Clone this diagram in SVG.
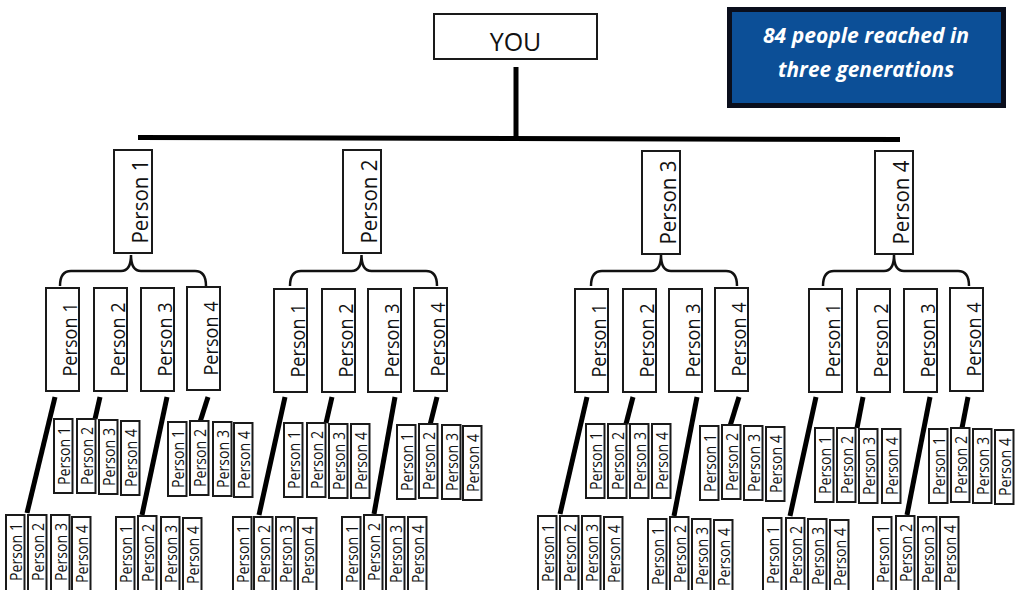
<svg xmlns="http://www.w3.org/2000/svg" width="1019" height="590" viewBox="0 0 1019 590">
<style>
.b{fill:#fff;stroke:#1a1a1a;stroke-width:2}
.t{font-family:'Open Sans','Liberation Sans',sans-serif;fill:#111;text-anchor:middle}
.t1{font-size:21px}.t2{font-size:19.5px}.t3{font-size:16px}
.c{stroke:#000;stroke-width:5;fill:none;stroke-linecap:butt}
.br{stroke:#111;stroke-width:2.5;fill:none}
.w{font-family:'Open Sans','Liberation Sans',sans-serif;font-size:21px;font-weight:bold;font-style:italic;fill:#fff;text-anchor:middle}
</style>
<rect width="1019" height="590" fill="#fff"/>
<g id="connectors">
<line class="c" x1="516" y1="67" x2="516" y2="138"/>
<line class="c" x1="138" y1="137.5" x2="900" y2="139.5"/>
<path class="br" d="M60,286 C60,277 63,271 71,271 L121,271 C127,271 131,267 131,255 C131,267 135,271 141,271 L195,271 C203,271 206,277 206,286"/>
<path class="br" d="M290,286 C290,277 293,271 301,271 L351.5,271 C357.5,271 361.5,267 361.5,255 C361.5,267 365.5,271 371.5,271 L426,271 C434,271 437,277 437,286"/>
<path class="br" d="M591,286 C591,277 594,271 602,271 L651,271 C657,271 661,267 661,255 C661,267 665,271 671,271 L726,271 C734,271 737,277 737,286"/>
<path class="br" d="M823,286 C823,277 826,271 834,271 L884,271 C890,271 894,267 894,255 C894,267 898,271 904,271 L958,271 C966,271 969,277 969,286"/>
<line class="c" x1="55" y1="397" x2="27" y2="513"/>
<line class="c" x1="100" y1="397" x2="95" y2="419"/>
<line class="c" x1="167" y1="397" x2="142" y2="515"/>
<line class="c" x1="208" y1="397" x2="200" y2="422"/>
<line class="c" x1="285" y1="397" x2="259" y2="515"/>
<line class="c" x1="332" y1="397" x2="326" y2="423"/>
<line class="c" x1="395" y1="397" x2="374" y2="514"/>
<line class="c" x1="437" y1="397" x2="430" y2="425"/>
<line class="c" x1="587" y1="397" x2="560" y2="514"/>
<line class="c" x1="633" y1="397" x2="626" y2="424"/>
<line class="c" x1="697" y1="397" x2="674" y2="516"/>
<line class="c" x1="739" y1="397" x2="730" y2="426"/>
<line class="c" x1="816" y1="397" x2="790" y2="516"/>
<line class="c" x1="863" y1="397" x2="857" y2="428"/>
<line class="c" x1="930" y1="397" x2="907" y2="515"/>
<line class="c" x1="968" y1="397" x2="962" y2="428"/>
</g>
<g id="you"><rect class="b" x="434" y="14" width="163" height="45"/><text class="t" x="515.5" y="51" font-size="25">YOU</text></g>
<g id="callout"><rect x="729.5" y="9.5" width="274" height="96" fill="#0c4f97" stroke="#0a0e1c" stroke-width="5"/>
<text class="w" x="866" y="43" textLength="206" lengthAdjust="spacingAndGlyphs">84 people reached in</text>
<text class="w" x="866" y="77" textLength="176" lengthAdjust="spacingAndGlyphs">three generations</text></g>

<g id="p1" transform="translate(114,150)"><rect class="b" width="38" height="103"/><text class="t t1" transform="translate(34,51.5) rotate(-90)" textLength="84" lengthAdjust="spacingAndGlyphs">Person 1</text></g>
<g id="p2" transform="translate(343,150)"><rect class="b" width="38" height="103"/><text class="t t1" transform="translate(34,51.5) rotate(-90)" textLength="84" lengthAdjust="spacingAndGlyphs">Person 2</text></g>
<g id="p3" transform="translate(642,151)"><rect class="b" width="38" height="103"/><text class="t t1" transform="translate(34,51.5) rotate(-90)" textLength="84" lengthAdjust="spacingAndGlyphs">Person 3</text></g>
<g id="p4" transform="translate(875,151)"><rect class="b" width="38" height="103"/><text class="t t1" transform="translate(34,51.5) rotate(-90)" textLength="84" lengthAdjust="spacingAndGlyphs">Person 4</text></g>

<g id="p1-1" transform="translate(46,288)"><rect class="b" width="33" height="103"/><text class="t t2" transform="translate(30.5,51.5) rotate(-90)" textLength="74" lengthAdjust="spacingAndGlyphs">Person 1</text></g>
<g id="p1-2" transform="translate(94,288)"><rect class="b" width="33" height="103"/><text class="t t2" transform="translate(30.5,51.5) rotate(-90)" textLength="74" lengthAdjust="spacingAndGlyphs">Person 2</text></g>
<g id="p1-3" transform="translate(141,288)"><rect class="b" width="33" height="103"/><text class="t t2" transform="translate(30.5,51.5) rotate(-90)" textLength="74" lengthAdjust="spacingAndGlyphs">Person 3</text></g>
<g id="p1-4" transform="translate(187,287)"><rect class="b" width="33" height="103"/><text class="t t2" transform="translate(30.5,51.5) rotate(-90)" textLength="74" lengthAdjust="spacingAndGlyphs">Person 4</text></g>
<g id="p2-1" transform="translate(274,289)"><rect class="b" width="33" height="103"/><text class="t t2" transform="translate(30.5,51.5) rotate(-90)" textLength="74" lengthAdjust="spacingAndGlyphs">Person 1</text></g>
<g id="p2-2" transform="translate(322,289)"><rect class="b" width="33" height="103"/><text class="t t2" transform="translate(30.5,51.5) rotate(-90)" textLength="74" lengthAdjust="spacingAndGlyphs">Person 2</text></g>
<g id="p2-3" transform="translate(368,289)"><rect class="b" width="33" height="103"/><text class="t t2" transform="translate(30.5,51.5) rotate(-90)" textLength="74" lengthAdjust="spacingAndGlyphs">Person 3</text></g>
<g id="p2-4" transform="translate(414,288)"><rect class="b" width="33" height="103"/><text class="t t2" transform="translate(30.5,51.5) rotate(-90)" textLength="74" lengthAdjust="spacingAndGlyphs">Person 4</text></g>
<g id="p3-1" transform="translate(575,289)"><rect class="b" width="33" height="103"/><text class="t t2" transform="translate(30.5,51.5) rotate(-90)" textLength="74" lengthAdjust="spacingAndGlyphs">Person 1</text></g>
<g id="p3-2" transform="translate(623,289)"><rect class="b" width="33" height="103"/><text class="t t2" transform="translate(30.5,51.5) rotate(-90)" textLength="74" lengthAdjust="spacingAndGlyphs">Person 2</text></g>
<g id="p3-3" transform="translate(669,289)"><rect class="b" width="33" height="103"/><text class="t t2" transform="translate(30.5,51.5) rotate(-90)" textLength="74" lengthAdjust="spacingAndGlyphs">Person 3</text></g>
<g id="p3-4" transform="translate(715,288)"><rect class="b" width="33" height="103"/><text class="t t2" transform="translate(30.5,51.5) rotate(-90)" textLength="74" lengthAdjust="spacingAndGlyphs">Person 4</text></g>
<g id="p4-1" transform="translate(809,289)"><rect class="b" width="33" height="103"/><text class="t t2" transform="translate(30.5,51.5) rotate(-90)" textLength="74" lengthAdjust="spacingAndGlyphs">Person 1</text></g>
<g id="p4-2" transform="translate(857,289)"><rect class="b" width="33" height="103"/><text class="t t2" transform="translate(30.5,51.5) rotate(-90)" textLength="74" lengthAdjust="spacingAndGlyphs">Person 2</text></g>
<g id="p4-3" transform="translate(904,289)"><rect class="b" width="33" height="103"/><text class="t t2" transform="translate(30.5,51.5) rotate(-90)" textLength="74" lengthAdjust="spacingAndGlyphs">Person 3</text></g>
<g id="p4-4" transform="translate(950,288)"><rect class="b" width="33" height="103"/><text class="t t2" transform="translate(30.5,51.5) rotate(-90)" textLength="74" lengthAdjust="spacingAndGlyphs">Person 4</text></g>

<g id="p1-1-1" transform="translate(6,515)"><rect class="b" width="18.5" height="80"/><text class="t t3" transform="translate(16,37) rotate(-90)" textLength="58" lengthAdjust="spacingAndGlyphs">Person 1</text></g>
<g id="p1-1-2" transform="translate(28,515)"><rect class="b" width="18.5" height="80"/><text class="t t3" transform="translate(16,37) rotate(-90)" textLength="58" lengthAdjust="spacingAndGlyphs">Person 2</text></g>
<g id="p1-1-3" transform="translate(51,515)"><rect class="b" width="18.5" height="80"/><text class="t t3" transform="translate(16,37) rotate(-90)" textLength="58" lengthAdjust="spacingAndGlyphs">Person 3</text></g>
<g id="p1-1-4" transform="translate(72,517)"><rect class="b" width="18.5" height="80"/><text class="t t3" transform="translate(16,37) rotate(-90)" textLength="58" lengthAdjust="spacingAndGlyphs">Person 4</text></g>
<g id="p1-2-1" transform="translate(54,419)"><rect class="b" width="18.5" height="74"/><text class="t t3" transform="translate(16,37) rotate(-90)" textLength="58" lengthAdjust="spacingAndGlyphs">Person 1</text></g>
<g id="p1-2-2" transform="translate(77,419)"><rect class="b" width="18.5" height="74"/><text class="t t3" transform="translate(16,37) rotate(-90)" textLength="58" lengthAdjust="spacingAndGlyphs">Person 2</text></g>
<g id="p1-2-3" transform="translate(99,420)"><rect class="b" width="18.5" height="74"/><text class="t t3" transform="translate(16,37) rotate(-90)" textLength="58" lengthAdjust="spacingAndGlyphs">Person 3</text></g>
<g id="p1-2-4" transform="translate(121,421)"><rect class="b" width="18.5" height="74"/><text class="t t3" transform="translate(16,37) rotate(-90)" textLength="58" lengthAdjust="spacingAndGlyphs">Person 4</text></g>
<g id="p1-3-1" transform="translate(116,517)"><rect class="b" width="18.5" height="80"/><text class="t t3" transform="translate(16,37) rotate(-90)" textLength="58" lengthAdjust="spacingAndGlyphs">Person 1</text></g>
<g id="p1-3-2" transform="translate(138,516)"><rect class="b" width="18.5" height="80"/><text class="t t3" transform="translate(16,37) rotate(-90)" textLength="58" lengthAdjust="spacingAndGlyphs">Person 2</text></g>
<g id="p1-3-3" transform="translate(161,517)"><rect class="b" width="18.5" height="80"/><text class="t t3" transform="translate(16,37) rotate(-90)" textLength="58" lengthAdjust="spacingAndGlyphs">Person 3</text></g>
<g id="p1-3-4" transform="translate(183,518)"><rect class="b" width="18.5" height="80"/><text class="t t3" transform="translate(16,37) rotate(-90)" textLength="58" lengthAdjust="spacingAndGlyphs">Person 4</text></g>
<g id="p1-4-1" transform="translate(168,422)"><rect class="b" width="18.5" height="74"/><text class="t t3" transform="translate(16,37) rotate(-90)" textLength="58" lengthAdjust="spacingAndGlyphs">Person 1</text></g>
<g id="p1-4-2" transform="translate(190,421)"><rect class="b" width="18.5" height="74"/><text class="t t3" transform="translate(16,37) rotate(-90)" textLength="58" lengthAdjust="spacingAndGlyphs">Person 2</text></g>
<g id="p1-4-3" transform="translate(213,422)"><rect class="b" width="18.5" height="74"/><text class="t t3" transform="translate(16,37) rotate(-90)" textLength="58" lengthAdjust="spacingAndGlyphs">Person 3</text></g>
<g id="p1-4-4" transform="translate(234,423)"><rect class="b" width="18.5" height="74"/><text class="t t3" transform="translate(16,37) rotate(-90)" textLength="58" lengthAdjust="spacingAndGlyphs">Person 4</text></g>

<g id="p2-1-1" transform="translate(233,517)"><rect class="b" width="18.5" height="80"/><text class="t t3" transform="translate(16,37) rotate(-90)" textLength="58" lengthAdjust="spacingAndGlyphs">Person 1</text></g>
<g id="p2-1-2" transform="translate(254,517)"><rect class="b" width="18.5" height="80"/><text class="t t3" transform="translate(16,37) rotate(-90)" textLength="58" lengthAdjust="spacingAndGlyphs">Person 2</text></g>
<g id="p2-1-3" transform="translate(276,517)"><rect class="b" width="18.5" height="80"/><text class="t t3" transform="translate(16,37) rotate(-90)" textLength="58" lengthAdjust="spacingAndGlyphs">Person 3</text></g>
<g id="p2-1-4" transform="translate(298,518)"><rect class="b" width="18.5" height="80"/><text class="t t3" transform="translate(16,37) rotate(-90)" textLength="58" lengthAdjust="spacingAndGlyphs">Person 4</text></g>
<g id="p2-2-1" transform="translate(284,423)"><rect class="b" width="18.5" height="74"/><text class="t t3" transform="translate(16,37) rotate(-90)" textLength="58" lengthAdjust="spacingAndGlyphs">Person 1</text></g>
<g id="p2-2-2" transform="translate(307,423)"><rect class="b" width="18.5" height="74"/><text class="t t3" transform="translate(16,37) rotate(-90)" textLength="58" lengthAdjust="spacingAndGlyphs">Person 2</text></g>
<g id="p2-2-3" transform="translate(329,424)"><rect class="b" width="18.5" height="74"/><text class="t t3" transform="translate(16,37) rotate(-90)" textLength="58" lengthAdjust="spacingAndGlyphs">Person 3</text></g>
<g id="p2-2-4" transform="translate(351,424)"><rect class="b" width="18.5" height="74"/><text class="t t3" transform="translate(16,37) rotate(-90)" textLength="58" lengthAdjust="spacingAndGlyphs">Person 4</text></g>
<g id="p2-3-1" transform="translate(342,517)"><rect class="b" width="18.5" height="80"/><text class="t t3" transform="translate(16,37) rotate(-90)" textLength="58" lengthAdjust="spacingAndGlyphs">Person 1</text></g>
<g id="p2-3-2" transform="translate(364,515)"><rect class="b" width="18.5" height="80"/><text class="t t3" transform="translate(16,37) rotate(-90)" textLength="58" lengthAdjust="spacingAndGlyphs">Person 2</text></g>
<g id="p2-3-3" transform="translate(386,517)"><rect class="b" width="18.5" height="80"/><text class="t t3" transform="translate(16,37) rotate(-90)" textLength="58" lengthAdjust="spacingAndGlyphs">Person 3</text></g>
<g id="p2-3-4" transform="translate(408,517)"><rect class="b" width="18.5" height="80"/><text class="t t3" transform="translate(16,37) rotate(-90)" textLength="58" lengthAdjust="spacingAndGlyphs">Person 4</text></g>
<g id="p2-4-1" transform="translate(397,425)"><rect class="b" width="18.5" height="74"/><text class="t t3" transform="translate(16,37) rotate(-90)" textLength="58" lengthAdjust="spacingAndGlyphs">Person 1</text></g>
<g id="p2-4-2" transform="translate(419,424)"><rect class="b" width="18.5" height="74"/><text class="t t3" transform="translate(16,37) rotate(-90)" textLength="58" lengthAdjust="spacingAndGlyphs">Person 2</text></g>
<g id="p2-4-3" transform="translate(442,425)"><rect class="b" width="18.5" height="74"/><text class="t t3" transform="translate(16,37) rotate(-90)" textLength="58" lengthAdjust="spacingAndGlyphs">Person 3</text></g>
<g id="p2-4-4" transform="translate(463,426)"><rect class="b" width="18.5" height="74"/><text class="t t3" transform="translate(16,37) rotate(-90)" textLength="58" lengthAdjust="spacingAndGlyphs">Person 4</text></g>

<g id="p3-1-1" transform="translate(538,516)"><rect class="b" width="18.5" height="80"/><text class="t t3" transform="translate(16,37) rotate(-90)" textLength="58" lengthAdjust="spacingAndGlyphs">Person 1</text></g>
<g id="p3-1-2" transform="translate(560,516)"><rect class="b" width="18.5" height="80"/><text class="t t3" transform="translate(16,37) rotate(-90)" textLength="58" lengthAdjust="spacingAndGlyphs">Person 2</text></g>
<g id="p3-1-3" transform="translate(582,516)"><rect class="b" width="18.5" height="80"/><text class="t t3" transform="translate(16,37) rotate(-90)" textLength="58" lengthAdjust="spacingAndGlyphs">Person 3</text></g>
<g id="p3-1-4" transform="translate(604,517)"><rect class="b" width="18.5" height="80"/><text class="t t3" transform="translate(16,37) rotate(-90)" textLength="58" lengthAdjust="spacingAndGlyphs">Person 4</text></g>
<g id="p3-2-1" transform="translate(586,424)"><rect class="b" width="18.5" height="74"/><text class="t t3" transform="translate(16,37) rotate(-90)" textLength="58" lengthAdjust="spacingAndGlyphs">Person 1</text></g>
<g id="p3-2-2" transform="translate(608,424)"><rect class="b" width="18.5" height="74"/><text class="t t3" transform="translate(16,37) rotate(-90)" textLength="58" lengthAdjust="spacingAndGlyphs">Person 2</text></g>
<g id="p3-2-3" transform="translate(630,424)"><rect class="b" width="18.5" height="74"/><text class="t t3" transform="translate(16,37) rotate(-90)" textLength="58" lengthAdjust="spacingAndGlyphs">Person 3</text></g>
<g id="p3-2-4" transform="translate(652,424)"><rect class="b" width="18.5" height="74"/><text class="t t3" transform="translate(16,37) rotate(-90)" textLength="58" lengthAdjust="spacingAndGlyphs">Person 4</text></g>
<g id="p3-3-1" transform="translate(648,519)"><rect class="b" width="18.5" height="80"/><text class="t t3" transform="translate(16,37) rotate(-90)" textLength="58" lengthAdjust="spacingAndGlyphs">Person 1</text></g>
<g id="p3-3-2" transform="translate(670,517)"><rect class="b" width="18.5" height="80"/><text class="t t3" transform="translate(16,37) rotate(-90)" textLength="58" lengthAdjust="spacingAndGlyphs">Person 2</text></g>
<g id="p3-3-3" transform="translate(692,519)"><rect class="b" width="18.5" height="80"/><text class="t t3" transform="translate(16,37) rotate(-90)" textLength="58" lengthAdjust="spacingAndGlyphs">Person 3</text></g>
<g id="p3-3-4" transform="translate(714,520)"><rect class="b" width="18.5" height="80"/><text class="t t3" transform="translate(16,37) rotate(-90)" textLength="58" lengthAdjust="spacingAndGlyphs">Person 4</text></g>
<g id="p3-4-1" transform="translate(700,426)"><rect class="b" width="18.5" height="74"/><text class="t t3" transform="translate(16,37) rotate(-90)" textLength="58" lengthAdjust="spacingAndGlyphs">Person 1</text></g>
<g id="p3-4-2" transform="translate(722,425)"><rect class="b" width="18.5" height="74"/><text class="t t3" transform="translate(16,37) rotate(-90)" textLength="58" lengthAdjust="spacingAndGlyphs">Person 2</text></g>
<g id="p3-4-3" transform="translate(744,426)"><rect class="b" width="18.5" height="74"/><text class="t t3" transform="translate(16,37) rotate(-90)" textLength="58" lengthAdjust="spacingAndGlyphs">Person 3</text></g>
<g id="p3-4-4" transform="translate(766,427)"><rect class="b" width="18.5" height="74"/><text class="t t3" transform="translate(16,37) rotate(-90)" textLength="58" lengthAdjust="spacingAndGlyphs">Person 4</text></g>

<g id="p4-1-1" transform="translate(763,518)"><rect class="b" width="18.5" height="80"/><text class="t t3" transform="translate(16,37) rotate(-90)" textLength="58" lengthAdjust="spacingAndGlyphs">Person 1</text></g>
<g id="p4-1-2" transform="translate(786,518)"><rect class="b" width="18.5" height="80"/><text class="t t3" transform="translate(16,37) rotate(-90)" textLength="58" lengthAdjust="spacingAndGlyphs">Person 2</text></g>
<g id="p4-1-3" transform="translate(808,519)"><rect class="b" width="18.5" height="80"/><text class="t t3" transform="translate(16,37) rotate(-90)" textLength="58" lengthAdjust="spacingAndGlyphs">Person 3</text></g>
<g id="p4-1-4" transform="translate(830,520)"><rect class="b" width="18.5" height="80"/><text class="t t3" transform="translate(16,37) rotate(-90)" textLength="58" lengthAdjust="spacingAndGlyphs">Person 4</text></g>
<g id="p4-2-1" transform="translate(815,428)"><rect class="b" width="18.5" height="74"/><text class="t t3" transform="translate(16,37) rotate(-90)" textLength="58" lengthAdjust="spacingAndGlyphs">Person 1</text></g>
<g id="p4-2-2" transform="translate(837,428)"><rect class="b" width="18.5" height="74"/><text class="t t3" transform="translate(16,37) rotate(-90)" textLength="58" lengthAdjust="spacingAndGlyphs">Person 2</text></g>
<g id="p4-2-3" transform="translate(859,429)"><rect class="b" width="18.5" height="74"/><text class="t t3" transform="translate(16,37) rotate(-90)" textLength="58" lengthAdjust="spacingAndGlyphs">Person 3</text></g>
<g id="p4-2-4" transform="translate(882,429)"><rect class="b" width="18.5" height="74"/><text class="t t3" transform="translate(16,37) rotate(-90)" textLength="58" lengthAdjust="spacingAndGlyphs">Person 4</text></g>
<g id="p4-3-1" transform="translate(873,517)"><rect class="b" width="18.5" height="80"/><text class="t t3" transform="translate(16,37) rotate(-90)" textLength="58" lengthAdjust="spacingAndGlyphs">Person 1</text></g>
<g id="p4-3-2" transform="translate(896,516)"><rect class="b" width="18.5" height="80"/><text class="t t3" transform="translate(16,37) rotate(-90)" textLength="58" lengthAdjust="spacingAndGlyphs">Person 2</text></g>
<g id="p4-3-3" transform="translate(918,517)"><rect class="b" width="18.5" height="80"/><text class="t t3" transform="translate(16,37) rotate(-90)" textLength="58" lengthAdjust="spacingAndGlyphs">Person 3</text></g>
<g id="p4-3-4" transform="translate(940,517)"><rect class="b" width="18.5" height="80"/><text class="t t3" transform="translate(16,37) rotate(-90)" textLength="58" lengthAdjust="spacingAndGlyphs">Person 4</text></g>
<g id="p4-4-1" transform="translate(929,429)"><rect class="b" width="18.5" height="74"/><text class="t t3" transform="translate(16,37) rotate(-90)" textLength="58" lengthAdjust="spacingAndGlyphs">Person 1</text></g>
<g id="p4-4-2" transform="translate(951,428)"><rect class="b" width="18.5" height="74"/><text class="t t3" transform="translate(16,37) rotate(-90)" textLength="58" lengthAdjust="spacingAndGlyphs">Person 2</text></g>
<g id="p4-4-3" transform="translate(973,429)"><rect class="b" width="18.5" height="74"/><text class="t t3" transform="translate(16,37) rotate(-90)" textLength="58" lengthAdjust="spacingAndGlyphs">Person 3</text></g>
<g id="p4-4-4" transform="translate(995,430)"><rect class="b" width="18.5" height="74"/><text class="t t3" transform="translate(16,37) rotate(-90)" textLength="58" lengthAdjust="spacingAndGlyphs">Person 4</text></g>
</svg>
